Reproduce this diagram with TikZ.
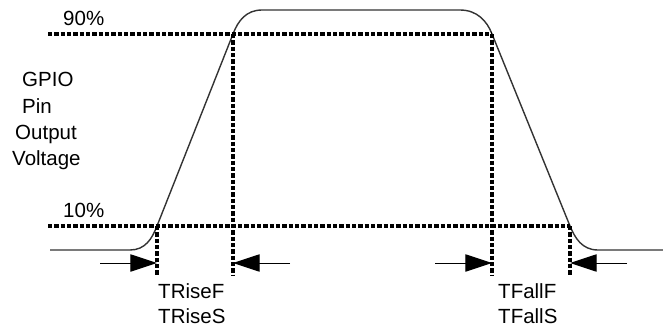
\documentclass[tikz,border=0pt]{standalone}
\usepackage{fontspec}
\setmainfont{Liberation Sans}
\usetikzlibrary{arrows.meta}
\begin{document}
\begin{tikzpicture}[
    x=0.3mm,y=0.3mm,
    every node/.style={font=\fontsize{17.5}{21}\selectfont, inner sep=0pt, anchor=base west},
    signal/.style={draw=black!80, line width=0.42mm, line join=round},
    guide/.style={draw=black, line width=1.05mm, dash pattern=on 1.3mm off 0.6mm},
    marker/.style={draw=black, line width=0.3mm, -{Triangle[length=8mm, width=5.2mm]}}
]
    \useasboundingbox (0,0) rectangle (663,327);

    % crossing points of the edges
    \coordinate (rise10) at (157,101);
    \coordinate (rise90) at (233,293);
    \coordinate (fall90) at (492,293);
    \coordinate (fall10) at (570,101);

    % output voltage
    \draw[signal] (50,77) -- (130,77) .. controls (145,77) and (152,88) .. (rise10)
        -- (rise90) .. controls (238,306) and (246,317) .. (262,317)
        -- (460,317) .. controls (477,317) and (487,306) .. (fall90)
        -- (fall10) .. controls (575,89) and (582,77) .. (598,77) -- (663,77);

    % threshold levels
    \coordinate (lvl90) at (48,293);
    \coordinate (lvl10) at (48,101);
    \draw[guide] (lvl90) -- (fall90);
    \draw[guide] (lvl10) -- (fall10);

    \foreach \p in {rise10,rise90,fall90,fall10} {
        \coordinate (\p foot) at (\p |- 0,52);
        \draw[guide] (\p) -- (\p foot);
    }

    % time markers
    \coordinate (rf0) at (100,64);
    \coordinate (rs0) at (290,64);
    \coordinate (ff0) at (435,64);
    \coordinate (fs0) at (627,64);
    \draw[marker] (rf0) -- (rise10 |- rf0);
    \draw[marker] (rs0) -- (rise90 |- rs0);
    \draw[marker] (ff0) -- (fall90 |- ff0);
    \draw[marker] (fs0) -- (fall10 |- fs0);

    \node (lbl90) at (63,302) {90\%};
    \node (lbl10) at (63,110) {10\%};

    \node (gpio) at (22,240) {GPIO};
    \node (pin) at (22,214) {Pin};
    \node (output) at (15,188) {Output};
    \node (voltage) at (12,162) {Voltage};

    \node (trisef) at (158,29) {TRiseF};
    \node (trises) at (158,4) {TRiseS};
    \node (tfallf) at (498,29) {TFallF};
    \node (tfalls) at (498,4) {TFallS};
\end{tikzpicture}
\end{document}
